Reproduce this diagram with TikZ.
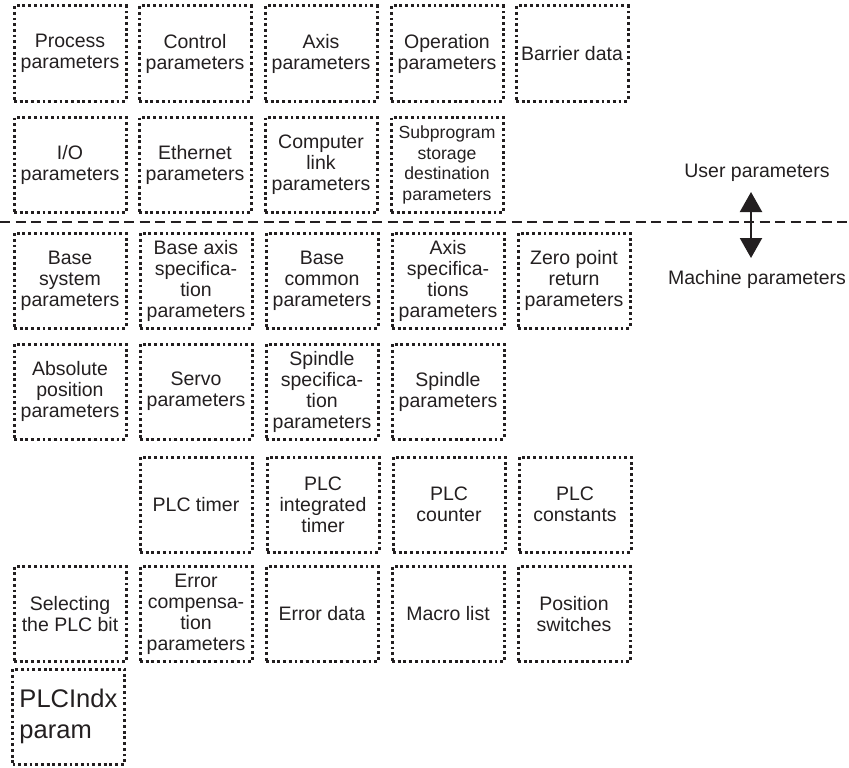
\documentclass[tikz,border=0pt]{standalone}
\usepackage{fontspec}
\setmainfont{Liberation Sans}
\usetikzlibrary{arrows.meta}
\definecolor{ink}{HTML}{231F20}
\tikzset{
  pbox/.style={draw=ink, text=ink, line width=3pt, dash pattern=on 2.8pt off 2.9pt,
    minimum width=112pt, minimum height=95pt, inner sep=0pt, align=center,
    font=\fontsize{19.5}{21}\selectfont},
  sbox/.style={pbox, font=\fontsize{17.6}{20.5}\selectfont},
  bigbox/.style={pbox, align=left, text width=98pt, font=\fontsize{25.5}{31}\selectfont},
  lbl/.style={text=ink, inner sep=0pt, anchor=base, font=\fontsize{19.5}{21}\selectfont},
  sep/.style={draw=ink, line width=1.6pt, dash pattern=on 10pt off 5.5pt},
  dbl/.style={draw=ink, line width=2.2pt, {Triangle[length=20pt,width=22pt]}-{Triangle[length=20pt,width=22pt]}}
}
\begin{document}
\begin{tikzpicture}[x=1pt,y=-1pt]
\useasboundingbox (0,0) rectangle (849,768);
% row 1
\node[pbox] (r1c1) at (70,53.5) {Process\\parameters};
\node[pbox] (r1c2) at (195,53.5) {Control\\parameters};
\node[pbox] (r1c3) at (321,53.5) {Axis\\parameters};
\node[pbox] (r1c4) at (447,53.5) {Operation\\parameters};
\node[pbox] (r1c5) at (572,53.5) {Barrier data};
% row 2
\node[pbox] (r2c1) at (70,165) {I/O\\parameters};
\node[pbox] (r2c2) at (195,165) {Ethernet\\parameters};
\node[pbox] (r2c3) at (321,165) {Computer\\link\\parameters};
\node[sbox] (r2c4) at (447,165) {Subprogram\\storage\\destination\\parameters};
% separator
\coordinate (sl) at (0,222);
\coordinate (sr) at (849,222);
\draw[sep] (sl) -- (sr);
\node[lbl] (user) at (757,177) {User parameters};
\node[lbl] (mach) at (757,284) {Machine parameters};
\coordinate (atop) at (751,192);
\coordinate (abot) at (751,258);
\draw[dbl] (atop) -- (abot);
% row 3
\node[pbox] (r3c1) at (70,280.5) {Base\\system\\parameters};
\node[pbox] (r3c2) at (196,280.5) {Base axis\\specifica-\\tion\\parameters};
\node[pbox] (r3c3) at (322,280.5) {Base\\common\\parameters};
\node[pbox] (r3c4) at (448,280.5) {Axis\\specifica-\\tions\\parameters};
\node[pbox] (r3c5) at (574,280.5) {Zero point\\return\\parameters};
% row 4
\node[pbox] (r4c1) at (70,391.5) {Absolute\\position\\parameters};
\node[pbox] (r4c2) at (196,391.5) {Servo\\parameters};
\node[pbox] (r4c3) at (322,391.5) {Spindle\\specifica-\\tion\\parameters};
\node[pbox] (r4c4) at (448,391.5) {Spindle\\parameters};
% row 5
\node[pbox] (r5c2) at (196,504.5) {PLC timer};
\node[pbox] (r5c3) at (323,504.5) {PLC\\integrated\\timer};
\node[pbox] (r5c4) at (449,504.5) {PLC\\counter};
\node[pbox] (r5c5) at (575,504.5) {PLC\\constants};
% row 6
\node[pbox] (r6c1) at (70,614) {Selecting\\the PLC bit};
\node[pbox] (r6c2) at (196,614) {Error\\compensa-\\tion\\parameters};
\node[pbox] (r6c3) at (322,614) {Error data};
\node[pbox] (r6c4) at (448,614) {Macro list};
\node[pbox] (r6c5) at (574,614) {Position\\switches};
% row 7
\node[bigbox] (r7c1) at (68.5,716.5) {PLCIndx\\param};
\end{tikzpicture}
\end{document}
